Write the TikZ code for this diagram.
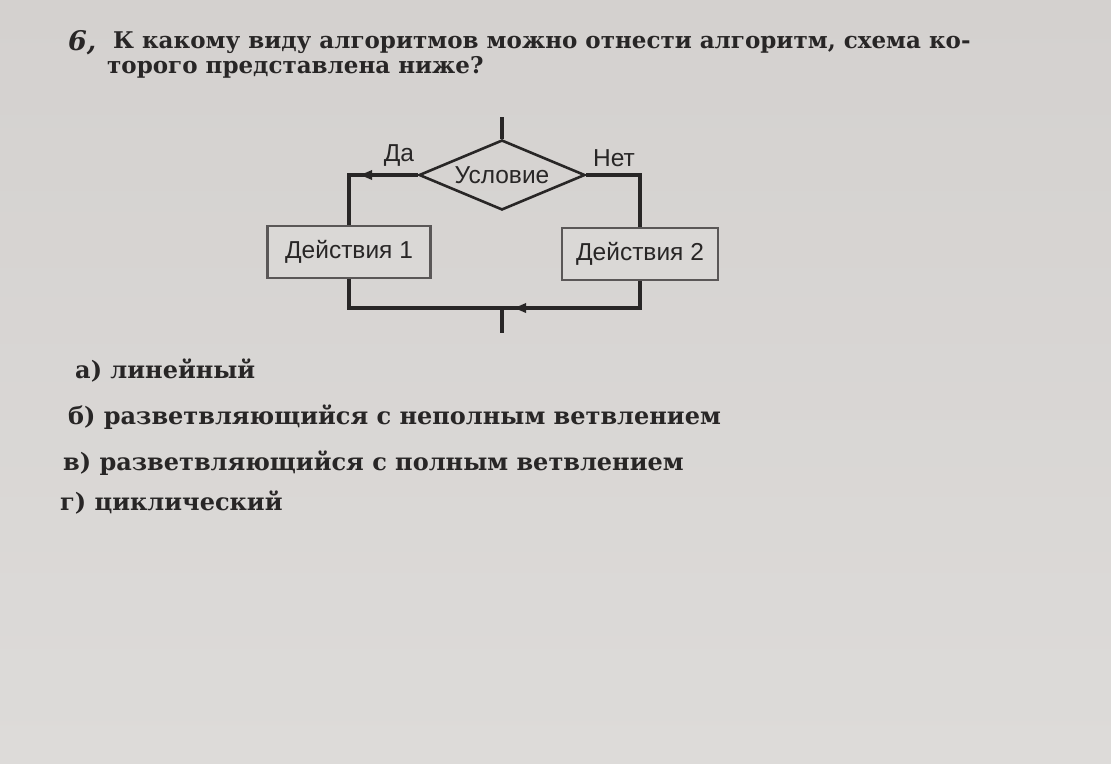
\documentclass[tikz,border=0pt]{standalone}
\usepackage{fontspec}
\setmainfont{DejaVu Serif}
\newfontfamily\diagfont{Liberation Sans}
\usetikzlibrary{arrows.meta,shapes.geometric}
\definecolor{paper}{RGB}{212,209,207}
\definecolor{paperlow}{RGB}{221,219,217}
\definecolor{ink}{RGB}{40,38,38}
\definecolor{boxink}{RGB}{90,87,87}
\tikzset{
  qtext/.style={inner sep=0pt, anchor=base west, text=ink, font=\fontsize{23}{27}\selectfont\bfseries},
  atext/.style={inner sep=0pt, anchor=base west, text=ink, font=\fontsize{24}{28}\selectfont\bfseries},
  dtext/.style={text=ink, font=\diagfont\fontsize{24.5}{28}\selectfont},
  actbox/.style={draw=boxink, line width=2.2pt, fill=paper!85!white, minimum width=163pt, minimum height=52pt, inner sep=2pt, dtext},
  cond/.style={diamond, aspect=2.35, draw=ink, line width=2.6pt, minimum width=166pt, minimum height=70pt, inner sep=0pt, dtext},
  flow/.style={draw=ink, line width=3.4pt, line join=miter},
  tip/.style={-{Triangle[length=12pt,width=9pt]}}
}
\begin{document}
\begin{tikzpicture}[x=1pt,y=-1pt]
\shade[top color=paper, bottom color=paperlow] (0,0) rectangle (1111,763);
\useasboundingbox (0,0) rectangle (1111,763);

% question
\node[inner sep=0pt, anchor=base west, text=ink, font=\fontsize{27}{30}\selectfont\bfseries\itshape] (num) at (68,50) {6,};
\node[qtext] (q1) at (113,48) {К какому виду алгоритмов можно отнести алгоритм, схема ко-};
\node[qtext] (q2) at (107,73) {торого представлена ниже?};

% flowchart
\coordinate (top) at (502,117);
\node[cond] (c) at (502,175) {Условие};
\node[actbox] (b1) at (349,252) {Действия 1};
\node[actbox, minimum width=156pt] (b2) at (640,254) {Действия 2};
\coordinate (a1) at (360,175);
\coordinate (join) at (502,308);
\coordinate (a2) at (514,308);
\coordinate (out) at (502,333);

\draw[flow] (top) -- (c.north);
\draw[flow] (c.west) -| (b1.north);
\draw[flow, tip] (c.west) -- (a1);
\draw[flow] (c.east) -| (b2.north);
\draw[flow] (b2.south) |- (join);
\draw[flow, tip] (b2.south) |- (a2);
\draw[flow] (b1.south) |- (join);
\draw[flow] (join) -- (out);

\node[dtext, anchor=base] (da) at (399,161) {Да};
\node[dtext, anchor=base] (net) at (614,166) {Нет};

% answers
\node[atext] (ansa) at (75,378) {а) линейный};
\node[atext] (ansb) at (68,424) {б) разветвляющийся с неполным ветвлением};
\node[atext] (ansv) at (63,470) {в) разветвляющийся с полным ветвлением};
\node[atext] (ansg) at (60,510) {г) циклический};
\end{tikzpicture}
\end{document}
